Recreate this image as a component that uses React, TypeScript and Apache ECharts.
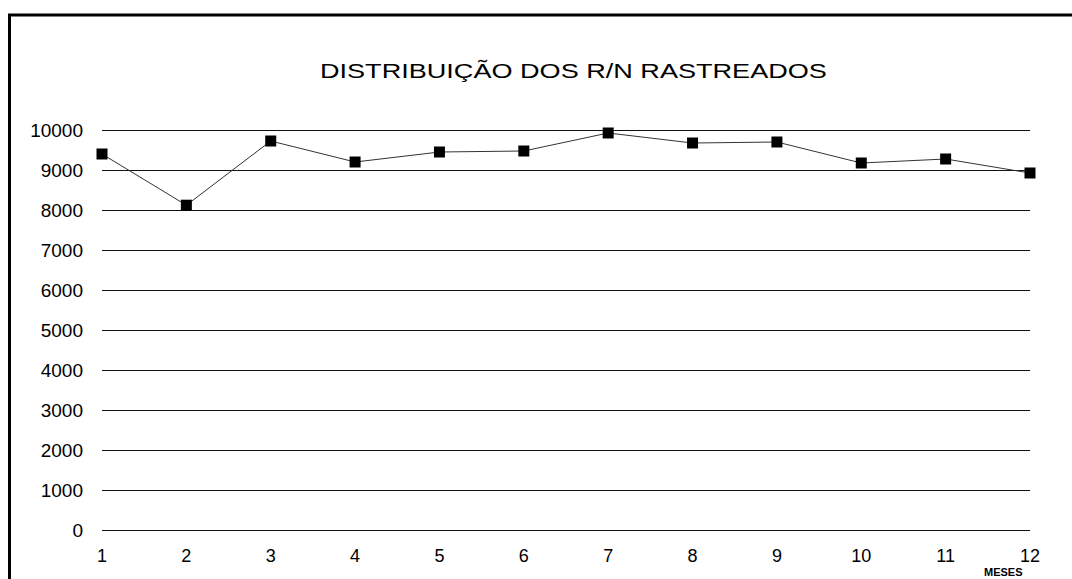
import React, { useEffect, useRef } from "react";
import * as echarts from "echarts";

const months = ["1", "2", "3", "4", "5", "6", "7", "8", "9", "10", "11", "12"];
const rnValues = [9400, 8120, 9725, 9200, 9450, 9475, 9925, 9675, 9700, 9175, 9275, 8925];
const titleText = "DISTRIBUIÇÃO DOS R/N RASTREADOS";
const xAxisName = "MESES";

export default function App() {
  const ref = useRef<HTMLDivElement>(null);
  useEffect(() => {
    if (!ref.current) return;
    const chart = echarts.init(ref.current, null, { renderer: "svg" });
    const font = "Arial, 'Liberation Sans', Helvetica, sans-serif";
    chart.setOption({
      animation: false,
      backgroundColor: "#fff",
      textStyle: { fontFamily: font },
      grid: { left: 102, right: 42, top: 130, bottom: 49 },
      xAxis: {
        type: "category",
        data: months,
        boundaryGap: false,
        axisLine: { show: false },
        axisTick: { show: false },
        axisLabel: { color: "#000", fontSize: 18, margin: 17, fontFamily: font },
        splitLine: { show: false },
      },
      yAxis: {
        type: "value",
        min: 0,
        max: 10000,
        interval: 1000,
        axisLine: { show: false },
        axisTick: { show: false },
        axisLabel: {
          color: "#000",
          fontSize: 19,
          margin: 19,
          fontFamily: font,
          formatter: (v: number) => String(v),
        },
        splitLine: { show: true, lineStyle: { color: "#111", width: 1 } },
      },
      series: [
        {
          type: "line",
          data: rnValues,
          symbol: "rect",
          symbolSize: 11,
          itemStyle: { color: "#000" },
          lineStyle: { color: "#333", width: 1 },
        },
      ],
      graphic: [
        {
          type: "text",
          x: 320,
          y: 60,
          scaleX: 1.29,
          style: { text: titleText, fontSize: 21, fill: "#000", fontFamily: font },
        },
        {
          type: "text",
          x: 984,
          y: 566,
          style: { text: xAxisName, fontSize: 11, fontWeight: "bold", fill: "#000", fontFamily: font },
        },
        {
          type: "line",
          shape: { x1: 8, y1: 15, x2: 1072, y2: 15 },
          style: { stroke: "#000", lineWidth: 3 },
        },
        {
          type: "line",
          shape: { x1: 9.5, y1: 14, x2: 9.5, y2: 579 },
          style: { stroke: "#000", lineWidth: 3 },
        },
      ],
    });
    return () => chart.dispose();
  }, []);
  return (
    <div
      ref={ref}
      style={{ position: "fixed", left: 0, top: 0, width: 1072, height: 579 }}
    />
  );
}
